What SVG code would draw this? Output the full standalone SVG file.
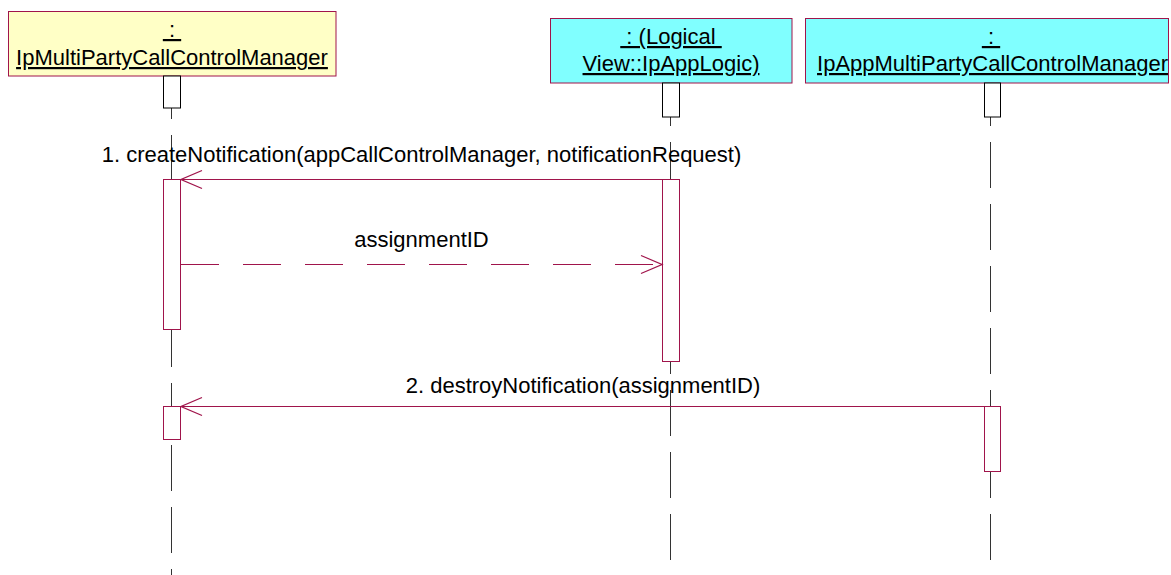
<svg xmlns="http://www.w3.org/2000/svg" width="1171" height="575" viewBox="0 0 1171 575">
<defs>
<style>
.t{font-family:"Liberation Sans",Arial,sans-serif;font-size:22px;fill:#000;text-anchor:middle}
.u{text-decoration:underline}
.hdr1{fill:#FFFFC6;stroke:#A0144B;stroke-width:1}
.hdr2{fill:#80FFFF;stroke:#A0144B;stroke-width:1}
.stub{fill:#fff;stroke:#000;stroke-width:1}
.act{fill:#fff;stroke:#A0144B;stroke-width:1}
.life{stroke:#333;stroke-width:1;fill:none;stroke-dasharray:46 16}
.msg{stroke:#A0144B;stroke-width:1;fill:none}
.ret{stroke-dasharray:38 24}
</style>
<marker id="open" markerUnits="userSpaceOnUse" orient="auto" refX="0" refY="0" markerWidth="30" markerHeight="30" overflow="visible">
<path d="M-21,-9 L0,0 L-21,9" fill="none" stroke="#A0144B" stroke-width="1.3"/>
</marker>
</defs>
<rect width="1171" height="575" fill="#fff"/>
<g id="lifelines">
<line class="life" x1="171.5" y1="108" x2="171.5" y2="575" stroke-dashoffset="35"/>
<line class="life" x1="670.5" y1="117" x2="670.5" y2="575" stroke-dashoffset="37"/>
<line class="life" x1="990.5" y1="117" x2="990.5" y2="575" stroke-dashoffset="37"/>
</g>
<g id="node-mpccm">
<rect class="hdr1" x="8.5" y="11.5" width="327.5" height="64.5"/>
<text class="t u" x="172" y="37" xml:space="preserve"> : </text>
<text class="t u" x="172" y="65">IpMultiPartyCallControlManager</text>
<rect class="stub" x="163.5" y="76" width="17" height="32"/>
</g>
<g id="node-applogic">
<rect class="hdr2" x="550.5" y="18.5" width="241.5" height="64.5"/>
<text class="t u" x="671" y="44" xml:space="preserve"> : (Logical </text>
<text class="t u" x="671" y="71">View::IpAppLogic)</text>
<rect class="stub" x="662.5" y="83" width="17" height="34"/>
</g>
<g id="node-appmpccm">
<rect class="hdr2" x="805.5" y="18.5" width="363" height="64.5"/>
<text class="t u" x="991" y="44" xml:space="preserve"> : </text>
<text class="t u" x="992.5" y="71">IpAppMultiPartyCallControlManager</text>
<rect class="stub" x="984.5" y="83" width="16" height="34"/>
</g>
<g id="activations">
<rect class="act" x="163.5" y="179.5" width="17" height="150"/>
<rect class="act" x="662.5" y="179.5" width="17" height="182"/>
<rect class="act" x="163.5" y="406.5" width="17" height="33"/>
<rect class="act" x="984.5" y="406.5" width="16" height="65"/>
</g>
<g id="connectors">
<line class="msg" x1="662" y1="179.5" x2="181" y2="179.5" marker-end="url(#open)"/>
<text class="t" x="421.5" y="162">1. createNotification(appCallControlManager, notificationRequest)</text>
<line class="msg ret" x1="181" y1="264.5" x2="662" y2="264.5" marker-end="url(#open)"/>
<text class="t" x="421.5" y="247">assignmentID</text>
<line class="msg" x1="984" y1="406.5" x2="181" y2="406.5" marker-end="url(#open)"/>
<text class="t" x="583" y="392.5">2. destroyNotification(assignmentID)</text>
</g>
</svg>
